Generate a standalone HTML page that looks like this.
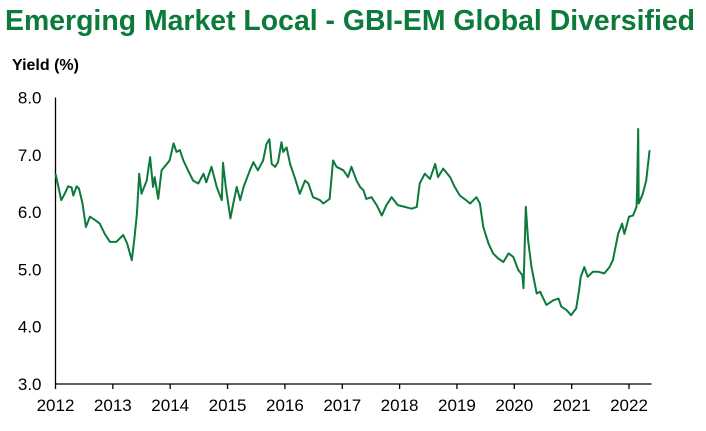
<!DOCTYPE html>
<html><head><meta charset="utf-8"><style>
html,body{margin:0;padding:0;background:#fff;}
svg{display:block;font-family:"Liberation Sans",Arial,sans-serif;}
</style></head><body>
<svg id="chart" width="706" height="431" viewBox="0 0 706 431" xmlns="http://www.w3.org/2000/svg">
<text x="5" y="30" font-size="29" font-weight="bold" fill="#0b7a3b" textLength="690" lengthAdjust="spacingAndGlyphs">Emerging Market Local - GBI-EM Global Diversified</text>
<text x="12" y="70" font-size="16" font-weight="bold" fill="#000">Yield (%)</text>
<g id="axes"></g>
<path id="series" fill="none" stroke="#0b7a3b" stroke-width="2" stroke-linejoin="round"/>
</svg>
<script>
const yTicks=[3,4,5,6,7,8];
const yTickLabels=["3.0","4.0","5.0","6.0","7.0","8.0"];
const xTicks=[2012,2013,2014,2015,2016,2017,2018,2019,2020,2021,2022];
const xTickLabels=["2012","2013","2014","2015","2016","2017","2018","2019","2020","2021","2022"];
const dates=[2012.00,2012.05,2012.10,2012.16,2012.22,2012.28,2012.31,2012.37,2012.41,2012.47,2012.53,2012.60,2012.69,2012.77,2012.86,2012.95,2013.06,2013.18,2013.25,2013.33,2013.38,2013.42,2013.46,2013.50,2013.59,2013.65,2013.70,2013.73,2013.79,2013.85,2013.94,2013.99,2014.06,2014.11,2014.17,2014.23,2014.31,2014.40,2014.49,2014.58,2014.63,2014.72,2014.81,2014.90,2014.92,2014.97,2015.05,2015.10,2015.16,2015.22,2015.28,2015.39,2015.45,2015.53,2015.62,2015.68,2015.73,2015.77,2015.83,2015.88,2015.94,2015.97,2016.03,2016.09,2016.17,2016.26,2016.35,2016.41,2016.49,2016.61,2016.67,2016.78,2016.84,2016.90,2017.02,2017.10,2017.16,2017.25,2017.31,
2017.37,2017.42,2017.51,2017.60,2017.69,2017.77,2017.86,2017.97,2018.09,2018.21,2018.30,2018.35,2018.44,2018.53,2018.62,2018.67,2018.76,2018.88,2018.96,2019.05,2019.13,2019.23,2019.34,2019.40,2019.46,2019.55,2019.63,2019.72,2019.81,2019.90,2019.98,2020.07,2020.14,2020.16,2020.20,2020.24,2020.30,2020.39,2020.45,2020.56,2020.68,2020.77,2020.82,2020.91,2020.99,2021.08,2021.13,2021.16,2021.22,2021.28,2021.37,2021.46,2021.57,2021.66,2021.72,2021.81,2021.88,2021.92,2022.00,2022.07,2022.13,2022.14,2022.16,2022.17,2022.24,2022.30,2022.36];
const yields=[6.67,6.44,6.21,6.32,6.45,6.43,6.29,6.45,6.41,6.15,5.74,5.92,5.86,5.80,5.62,5.48,5.48,5.60,5.45,5.16,5.57,5.97,6.67,6.32,6.55,6.96,6.44,6.61,6.23,6.73,6.84,6.90,7.20,7.05,7.08,6.90,6.73,6.55,6.50,6.67,6.52,6.79,6.44,6.21,6.86,6.44,5.89,6.15,6.44,6.21,6.44,6.73,6.87,6.73,6.90,7.19,7.27,6.84,6.79,6.87,7.22,7.05,7.13,6.84,6.61,6.32,6.55,6.50,6.26,6.21,6.15,6.23,6.90,6.79,6.73,6.61,6.79,6.55,6.44,
6.38,6.23,6.26,6.12,5.94,6.12,6.26,6.12,6.09,6.06,6.09,6.50,6.67,6.58,6.84,6.61,6.76,6.61,6.44,6.29,6.23,6.15,6.26,6.15,5.74,5.45,5.28,5.19,5.13,5.28,5.22,4.99,4.90,4.67,6.09,5.51,5.04,4.58,4.61,4.38,4.46,4.49,4.35,4.29,4.20,4.32,4.64,4.87,5.04,4.87,4.96,4.96,4.93,5.04,5.16,5.62,5.80,5.62,5.92,5.94,6.09,6.32,7.45,6.15,6.32,6.55,7.08];
const X0=55.5,X1=651.5,Y0=384;
function xs(v){return X0+(v-2012)*57.35;}
function ys(v){return Y0-(v-3)*57.3;}
const NS="http://www.w3.org/2000/svg";
const axes=document.getElementById('axes');
function mk(tag,attrs){const e=document.createElementNS(NS,tag);for(const k in attrs)e.setAttribute(k,attrs[k]);axes.appendChild(e);return e;}
let l=mk('line',{x1:X0,y1:ys(8),x2:X0,y2:Y0,stroke:'#000','stroke-width':1.3});


l=mk('line',{x1:X0,y1:Y0,x2:X1,y2:Y0,stroke:'#000','stroke-width':1.3});


yTicks.forEach((t,i)=>{
  const tx=mk('text',{x:X0-14,y:ys(t)+6,'font-size':17,'text-anchor':'end',fill:'#000'});
  tx.textContent=yTickLabels[i];
  
  
});
xTicks.forEach((t,i)=>{
  const tk=mk('line',{x1:xs(t),y1:Y0,x2:xs(t),y2:Y0+5,stroke:'#000','stroke-width':1.3});
  
  
  const tx=mk('text',{x:xs(t),y:Y0+27,'font-size':17,'text-anchor':'middle',fill:'#000'});
  tx.textContent=xTickLabels[i];
  
  
});
let d='';
dates.forEach((t,i)=>{d+=(i?'L':'M')+xs(t).toFixed(1)+','+ys(yields[i]).toFixed(1);});
document.getElementById('series').setAttribute('d',d);
</script>
</body></html>
